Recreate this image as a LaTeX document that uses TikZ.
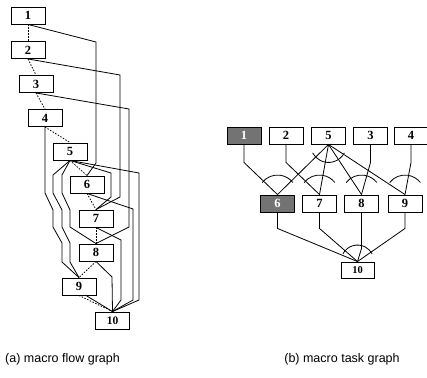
\documentclass[tikz,border=0pt]{standalone}
\usepackage{fontspec}
\setmainfont{Liberation Serif}
\newfontfamily\capfont{Liberation Sans}
\usetikzlibrary{backgrounds,calc}
\definecolor{boxgray}{RGB}{115,115,115}
\tikzset{
 box/.style={draw, fill=white, line width=0.9pt, minimum width=34pt, minimum height=17pt, inner sep=0pt, font=\fontsize{12.5}{12.5}\selectfont\bfseries},
 graybox/.style={box, fill=boxgray, text=white},
 flow/.style={line width=0.8pt, dash pattern=on 1.5pt off 1.5pt},
 dep/.style={line width=0.8pt},
 andarc/.style={line width=0.8pt},
 captext/.style={font=\capfont\fontsize{12.5}{14}\selectfont, inner sep=0pt},
}
\begin{document}
\begin{tikzpicture}[x=1pt,y=-1pt]
\useasboundingbox (0,0) rectangle (427,377);
% ---------- (a) macro flow graph ----------
\node[box] (a1) at (28,15.5) {1};
\node[box] (a2) at (28,50) {2};
\node[box] (a3) at (36,84) {3};
\node[box] (a4) at (45,118) {4};
\node[box] (a5) at (70,151.5) {5};
\node[box] (a6) at (87,184.5) {6};
\node[box] (a7) at (96,218.5) {7};
\node[box] (a8) at (96,252.5) {8};
\node[box] (a9) at (79,286.5) {9};
\node[box, font=\fontsize{11.5}{11.5}\selectfont\bfseries] (a10) at (112.5,320.5) {10};
% ---------- (b) macro task graph ----------
\node[graybox] (b1) at (244,135.5) {1};
\node[box] (b2) at (286,135.5) {2};
\node[box] (b5) at (328.5,135.5) {5};
\node[box] (b3) at (370.5,135.5) {3};
\node[box] (b4) at (411,135.5) {4};
\node[graybox] (b6) at (277.5,203.5) {6};
\node[box] (b7) at (319.5,203.5) {7};
\node[box] (b8) at (361.5,203.5) {8};
\node[box] (b9) at (405,203.5) {9};
\node[box, minimum width=33pt, minimum height=16pt, font=\fontsize{10.5}{10.5}\selectfont\bfseries] (b10) at (357.5,270) {10};
% captions
\node[captext] (capa) at (62.5,359) {(a) macro flow graph};
\node[captext] (capb) at (342,359) {(b) macro task graph};
\begin{pgfonlayer}{background}
% control flow (dotted)
\draw[flow] (a1.south) -- (a2.north);
\draw[flow] (a2.south) -- (a3.north);
\draw[flow] (a3.south) -- (a4.north);
\draw[flow] (a4.south) -- (a5.north);
\draw[flow] (a5.south) -- (a6.north);
\draw[flow] (a6.south) -- (a7.north);
\draw[flow] (a7.south) -- (a8.north);
\draw[flow] (a8.south) -- (a9.north);
\draw[flow] (a9.south) -- (a10.north);
% data dependences (solid)
\draw[dep] (a1.south) -- (96,42) -- (96,163) -- (a6.north);
\draw[dep] (a2.south) -- (120,75) -- (120,197) -- (a7.north);
\draw[dep] (a3.south) -- (129,109) -- (129,227) -- (a8.north);
\draw[dep] (a4.south) -- (45,193) -- (53,210) -- (53,227) -- (62,243) -- (62,262) -- (a9.north);
\draw[dep] (a5.south) -- (53,175) -- (53,193) -- (62,210) -- (62,227) -- (70,243) -- (70,262) -- (a9.north);
\draw[dep] (a5.south) -- (62,175) -- (62,193) -- (70,210) -- (70,227) -- (a8.north);
\draw[dep] (a5.south) -- (111,173) -- (111,197) -- (a7.north);
\draw[dep] (a5.south) -- (139,173) -- (139,300) -- (a10.north);
\draw[dep] (a6.south) -- (133,209) -- (133,300) -- (a10.north);
\draw[dep] (a7.south) -- (121,240) -- (121,300) -- (a10.north);
\draw[dep] (a8.south) -- (112,277) -- (a10.north);
\draw[dep] ($(a9.south)+(7,0)$) -- (a10.north);
% (b) edges
\draw[dep] (b1.south) -- ++(0,18) -- (b6.north);
\draw[dep] (b2.south) -- ++(0,18) -- (b7.north);
\draw[dep] (b3.south) -- ++(0,18) -- (b8.north);
\draw[dep] (b4.south) -- ++(0,18) -- (b9.north);
\foreach \t in {b6,b7,b8,b9} \draw[dep] (b5.south) -- (\t.north);
\draw[dep] (b6.south) -- ++(0,16) -- (b10.north);
\draw[dep] (b7.south) -- ++(0,16) -- (b10.north);
\draw[dep] (b8.south) -- ++(0,36) -- (b10.north);
\draw[dep] (b9.south) -- ++(0,16) -- (b10.north);
\end{pgfonlayer}
% arcs
\foreach \t in {b6,b7,b8,b9}
  \draw[andarc] ([shift={(218:19.5)}]\t.north) arc[start angle=218, end angle=322, radius=19.5];
\draw[andarc] ([shift={(28:18)}]b5.south) arc[start angle=28, end angle=152, radius=18];
\draw[andarc] ([shift={(208:16.5)}]b10.north) arc[start angle=208, end angle=332, radius=16.5];
\end{tikzpicture}
\end{document}
